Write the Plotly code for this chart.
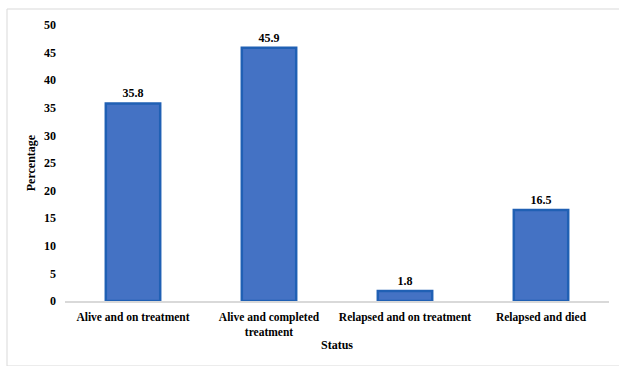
import plotly.graph_objects as go

categories = ["Alive and on treatment", "Alive and completed<br>treatment",
              "Relapsed and on treatment", "Relapsed and died"]
values = [35.8, 45.9, 1.8, 16.5]
y_ticks = list(range(0, 51, 5))

FONT = "Liberation Serif, Times New Roman, serif"

fig = go.Figure()
fig.add_trace(go.Bar(
    x=categories, y=values,
    marker=dict(color="#4472C4", line=dict(color="#2060B4", width=2.5)),
    text=[str(v) for v in values],
    textposition="outside",
    textfont=dict(family=FONT, size=12, color="#000000", weight="bold"),
    cliponaxis=False,
))

fig.update_layout(
    width=619, height=366,
    margin=dict(l=65, r=10, t=25, b=65),
    paper_bgcolor="white", plot_bgcolor="white",
    bargap=0.6,
    showlegend=False,
    font=dict(family=FONT, color="#000000"),
    xaxis=dict(
        showline=True, linecolor="#D9D9D9", linewidth=1.5,
        ticks="", tickfont=dict(family=FONT, size=11.5, color="#000000", weight="bold"),
        ticklabelstandoff=4,
        title=dict(text="Status", font=dict(family=FONT, size=12, weight="bold"), standoff=4),
    ),
    yaxis=dict(
        range=[0, 50], tickvals=y_ticks,
        showgrid=False, zeroline=False, showline=False,
        tickfont=dict(family=FONT, size=12, color="#000000", weight="bold"),
        ticklabelstandoff=8,
        title=dict(text="Percentage", font=dict(family=FONT, size=12, weight="bold"), standoff=5),
    ),
    shapes=[dict(type="rect", xref="paper", yref="paper",
                 x0=-58/544, x1=603/544, y0=-65/276, y1=(301-9)/276,
                 line=dict(color="#D9D9D9", width=1), fillcolor="rgba(0,0,0,0)", layer="below")],
)

fig.write_html("out.html")
